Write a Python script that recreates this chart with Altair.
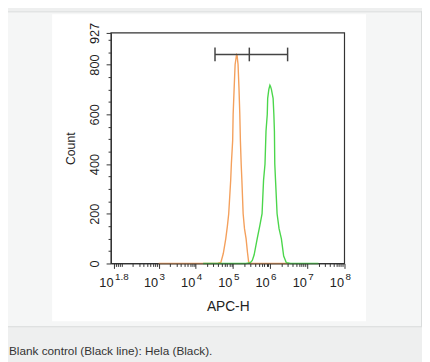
import math
import altair as alt
import pandas as pd

# ---------------- data ----------------
# x values are log10(APC-H); y values are event counts
x_domain = [1.72, 8.0]
y_domain = [0, 927]

tick_label_pos = [1.8, 3, 4, 5, 6, 7, 8]
tick_label_exp = ["1.8", "3", "4", "5", "6", "7", "8"]
x_minor = [round(d + math.log10(k), 4) for d in range(1, 8) for k in range(2, 10)
           if 1.8 < d + math.log10(k) < 8] + [2.0]

y_major = [0, 200, 400, 600, 800, 927]
y_minor = [50, 100, 150, 250, 300, 350, 450, 500, 550, 650, 700, 750, 850, 900]

blank_x = [3.00, 4.40, 4.60, 4.675, 4.74, 4.807, 4.85, 4.886, 4.939, 4.957, 4.992, 5.005,
           5.031, 5.058, 5.097, 5.11, 5.137, 5.163, 5.184, 5.20, 5.221, 5.24, 5.274, 5.31,
           5.353, 5.39, 5.422, 5.50, 6.50]
blank_y = [0, 0, 1, 4, 40, 100, 150, 200, 335, 400, 494, 600,
           700, 800, 840, 838, 800, 700, 600, 494, 400, 335, 200, 140,
           100, 45, 6, 0, 0]

hela_x = [4.20, 5.35, 5.467, 5.52, 5.57, 5.651, 5.72, 5.783, 5.823, 5.862, 5.889, 5.923,
          5.934, 5.965, 5.994, 6.01, 6.034, 6.08, 6.10, 6.115, 6.125, 6.145, 6.187, 6.24,
          6.303, 6.364, 6.435, 6.55, 7.30]
hela_y = [0, 0, 3, 12, 35, 99, 150, 200, 335, 400, 533, 600,
          664, 700, 717, 712, 700, 664, 600, 533, 400, 335, 200, 140,
          99, 30, 3, 0, 0]

gate_x = [4.517, 5.44, 6.47]
gate_count = 840
gate_lo, gate_hi = 813, 868

caption = "Blank control (Black line): Hela (Black)."

ORANGE = "#f4a05c"
GREEN = "#4bd64b"
DARK = "#333333"
FONT = "Liberation Sans"

# ---------------- tables ----------------
curves = pd.concat([
    pd.DataFrame({"logx": blank_x, "count": blank_y, "series": "Blank control",
                  "i": range(len(blank_x))}),
    pd.DataFrame({"logx": hela_x, "count": hela_y, "series": "Hela",
                  "i": range(len(hela_x))}),
])
labels = pd.DataFrame({"pos": tick_label_pos, "exp": tick_label_exp})
gate_h = pd.DataFrame({"x1": [gate_x[0]], "x2": [gate_x[-1]], "y": [gate_count]})
gate_v = pd.DataFrame({"x": gate_x, "lo": [gate_lo] * 3, "hi": [gate_hi] * 3})
one = pd.DataFrame({"k": [0]})

xs = alt.Scale(domain=x_domain, nice=False, zero=False)
ys = alt.Scale(domain=y_domain, nice=False, zero=True)

# ---------------- decoration ----------------
upper_box = alt.Chart(one).mark_rect(fill="#f5f6f6").encode(
    x=alt.value(-105), x2=alt.value(316), y=alt.value(-22), y2=alt.value(299))
border_bottom = alt.Chart(one).mark_rule(color="#d9dbdb", strokeWidth=1).encode(
    x=alt.value(-105), x2=alt.value(317), y=alt.value(299.5))
border_right = alt.Chart(one).mark_rule(color="#d9dbdb", strokeWidth=1).encode(
    x=alt.value(316.5), y=alt.value(-22), y2=alt.value(299.5))
border_top = alt.Chart(one).mark_rule(color="#d9dbdb", strokeWidth=1).encode(
    x=alt.value(-105), x2=alt.value(317), y=alt.value(-21.5))
panel = alt.Chart(one).mark_rect(fill="#ffffff").encode(
    x=alt.value(-60), x2=alt.value(260), y=alt.value(-19), y2=alt.value(294))
frame = alt.Chart(one).mark_rect(filled=False, stroke=DARK, strokeWidth=1.2).encode(
    x=alt.value(0), x2=alt.value("width"), y=alt.value(0), y2=alt.value("height"))

# ---------------- histograms ----------------
lines = alt.Chart(curves).mark_line(strokeWidth=1.4, interpolate="linear").encode(
    x=alt.X("logx:Q", scale=xs, axis=alt.Axis(
        orient="bottom", values=[1.8, 3, 4, 5, 6, 7, 8], labels=False, grid=False,
        tickSize=5, tickColor=DARK, tickWidth=1, domainColor=DARK, domainWidth=1,
        title="APC-H", titleFont=FONT, titleFontSize=14, titleFontWeight="normal",
        titleColor="#222222", titleY=48, titleBaseline="alphabetic", zindex=1)),
    y=alt.Y("count:Q", scale=ys, axis=alt.Axis(
        orient="left", values=y_major, grid=False, labelAngle=270, labelAlign="center",
        labelBaseline="alphabetic", labelPadding=8, labelFont=FONT, labelFontSize=13,
        labelColor="#222222", labelOverlap=False, labelFlush=False,
        tickSize=5, tickColor=DARK, tickWidth=1, domainColor=DARK, domainWidth=1,
        title="Count", titleFont=FONT, titleFontSize=12.5, titleFontWeight="normal",
        titleColor="#222222", titleAngle=270, titleX=-37, titleY=117.5,
        titleBaseline="alphabetic", titleAlign="center", zindex=1)),
    color=alt.Color("series:N", scale=alt.Scale(domain=["Blank control", "Hela"],
                                                range=[ORANGE, GREEN]), legend=None),
    order=alt.Order("i:Q"),
)

# ---------------- gate marker (carries the minor-tick axes) ----------------
gate_line = alt.Chart(gate_h).mark_rule(color="#444444", strokeWidth=1.5).encode(
    x=alt.X("x1:Q", scale=xs, axis=alt.Axis(
        orient="bottom", values=x_minor, labels=False, domain=False, grid=False,
        tickSize=3, tickColor=DARK, tickWidth=1, title=None, zindex=1)),
    x2="x2:Q",
    y=alt.Y("y:Q", scale=ys, axis=alt.Axis(
        orient="left", values=y_minor, labels=False, domain=False, grid=False,
        tickSize=3, tickColor=DARK, tickWidth=1, title=None, zindex=1)),
)
gate_ticks = alt.Chart(gate_v).mark_rule(color="#444444", strokeWidth=1.5).encode(
    x=alt.X("x:Q", scale=xs, axis=None),
    y=alt.Y("lo:Q", scale=ys, axis=None),
    y2="hi:Q",
)

# ---------------- x tick labels: 10 with superscript exponent ----------------
base10 = alt.Chart(labels).mark_text(
    align="right", baseline="alphabetic", dx=-0.5, font=FONT, fontSize=13, color="#222222"
).encode(x=alt.X("pos:Q", scale=xs, axis=None), y=alt.value(259), text=alt.value("10"))
expo = alt.Chart(labels).mark_text(
    align="left", baseline="alphabetic", dx=1, font=FONT, fontSize=10, color="#222222"
).encode(x=alt.X("pos:Q", scale=xs, axis=None), y=alt.value(252), text="exp:N")

cap = alt.Chart(pd.DataFrame({"t": [caption]})).mark_text(
    align="left", baseline="alphabetic", font=FONT, fontSize=12, color="#333333"
).encode(x=alt.value(-104), y=alt.value(328.5), text="t:N")

chart = alt.layer(
    upper_box, border_bottom, border_right, border_top, panel, frame,
    lines, gate_line, gate_ticks, base10, expo, cap
).resolve_axis(x="independent", y="independent").properties(
    width=238, height=235,
    padding={"left": 105, "top": 22, "right": 79, "bottom": 97},
    autosize=alt.AutoSizeParams(type="none"),
    background="#eeefef",
).configure_view(strokeWidth=0)

chart.save("out.html", embed_options={"renderer": "svg", "actions": False})
